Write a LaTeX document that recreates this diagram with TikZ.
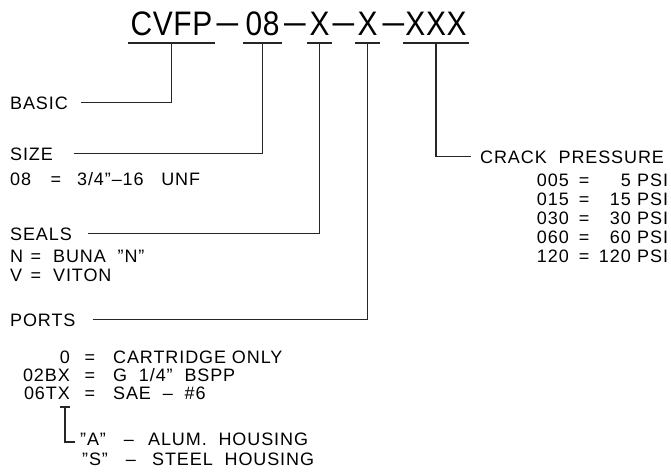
\documentclass[tikz,border=0pt]{standalone}
\usepackage{fontspec}
\setmainfont[LetterSpace=5]{Liberation Sans}
\newfontfamily\titlefont[FakeStretch=0.88,LetterSpace=2]{Liberation Sans}
\usetikzlibrary{positioning,calc}
\tikzset{
  leader/.style={line width=1.1pt, draw=black!85},
  titletext/.style={font=\titlefont\fontsize{34}{34}\selectfont,
    inner xsep=2pt, inner ysep=0pt, anchor=base},
  code/.style={font=\fontsize{18}{18}\selectfont, inner sep=0pt,
    anchor=base west},
  coderight/.style={code, anchor=base east},
  equal/.style={code, anchor=base}
}
\begin{document}
\begin{tikzpicture}[x=1pt,y=-1pt]
  \useasboundingbox (0,0) rectangle (671,471);

  % Part number
  \node[titletext] (t-basic) at (171.5,35) {CVFP};
  \node[titletext] (d-1) at (227.5,35) {\raisebox{2pt}{\scalebox{1.3}[1]{–}}};
  \node[titletext] (t-size) at (262.5,35) {08};
  \node[titletext] (d-2) at (295,35) {\raisebox{2pt}{\scalebox{1.3}[1]{–}}};
  \node[titletext] (t-seals) at (319.5,35) {X};
  \node[titletext] (d-3) at (343.5,35) {\raisebox{2pt}{\scalebox{1.3}[1]{–}}};
  \node[titletext] (t-ports) at (367.5,35) {X};
  \node[titletext] (d-4) at (393.5,35) {\raisebox{2pt}{\scalebox{1.3}[1]{–}}};
  \node[titletext] (t-crack) at (436,35) {XXX};
  \foreach \part in {basic, size, seals, ports, crack} {
    \draw[leader] ([yshift=-8pt]t-\part.base west) -- ([yshift=-8pt]t-\part.base east);
    \coordinate (u-\part) at ([yshift=-8pt]t-\part.base);
  }

  % Left side
  \node[code] (basic) at (10,109) {BASIC};
  \node[code] (size) at (10,160) {SIZE};
  \node[code] (sz-08) at (10,185) {08};
  \node[equal] (sz-eq) at (56,185) {=};
  \node[code] (sz-unf) at (77,185) {3/4”–16~~~UNF};

  \node[code] (seals) at (10,240) {SEALS};
  \node[code] (sl-n) at (10,262) {N};
  \node[equal] (sl-n-eq) at (36,262) {=};
  \node[code] (sl-buna) at (53,262) {BUNA~~”N”};
  \node[code] (sl-v) at (10,281) {V};
  \node[equal] (sl-v-eq) at (36,281) {=};
  \node[code] (sl-viton) at (53,281) {VITON};

  \node[code] (ports) at (10,326) {PORTS};
  \foreach \code/\desc/\yy in {0/{CARTRIDGE~ONLY}/363, 02BX/{G~~1/4”~~BSPP}/381,
      06TX/{SAE~~–~~\#6}/399} {
    \node[coderight] (pt-\code) at (70,\yy) {\code};
    \node[equal] (pt-eq-\code) at (90,\yy) {=};
    \node[code] (pt-desc-\code) at (113,\yy) {\desc};
  }
  \node[code] (h-a) at (80,445) {”A”};
  \node[equal] (h-a-dash) at (129,445) {–};
  \node[code] (h-alum) at (148,445) {ALUM.~~HOUSING};
  \node[code] (h-s) at (82,465) {”S”};
  \node[equal] (h-s-dash) at (131,465) {–};
  \node[code] (h-steel) at (152,465) {STEEL~~HOUSING};

  % Right side
  \node[code] (crack) at (480,163) {CRACK~~PRESSURE};
  \foreach \code/\num/\yy in {005/5/186, 015/15/205, 030/30/224, 060/60/243,
      120/120/262} {
    \node[coderight] (cp-\code) at (569,\yy) {\code};
    \node[equal] (cp-eq-\code) at (584,\yy) {=};
    \node[coderight] (cp-num-\code) at (631,\yy) {\num};
    \node[code] (cp-psi-\code) at (637,\yy) {PSI};
  }

  % Leaders
  \draw[leader] ([xshift=13pt]basic.east) -| (u-basic);
  \draw[leader] ([xshift=21pt]size.east) -| (u-size);
  \draw[leader] ([xshift=16pt]seals.east) -| (u-seals);
  \draw[leader] ([xshift=17pt]ports.east) -| (u-ports);
  \draw[leader] (u-crack) |- ([xshift=-9pt]crack.west);

  % Housing bracket
  \coordinate (brk-top) at ([xshift=-5pt,yshift=-8pt]pt-06TX.base east);
  \draw[leader] ([xshift=-5pt]brk-top) -- ([xshift=5pt]brk-top);
  \draw[leader] (brk-top) |- ([xshift=-5pt,yshift=3pt]h-a.base west);
\end{tikzpicture}
\end{document}
